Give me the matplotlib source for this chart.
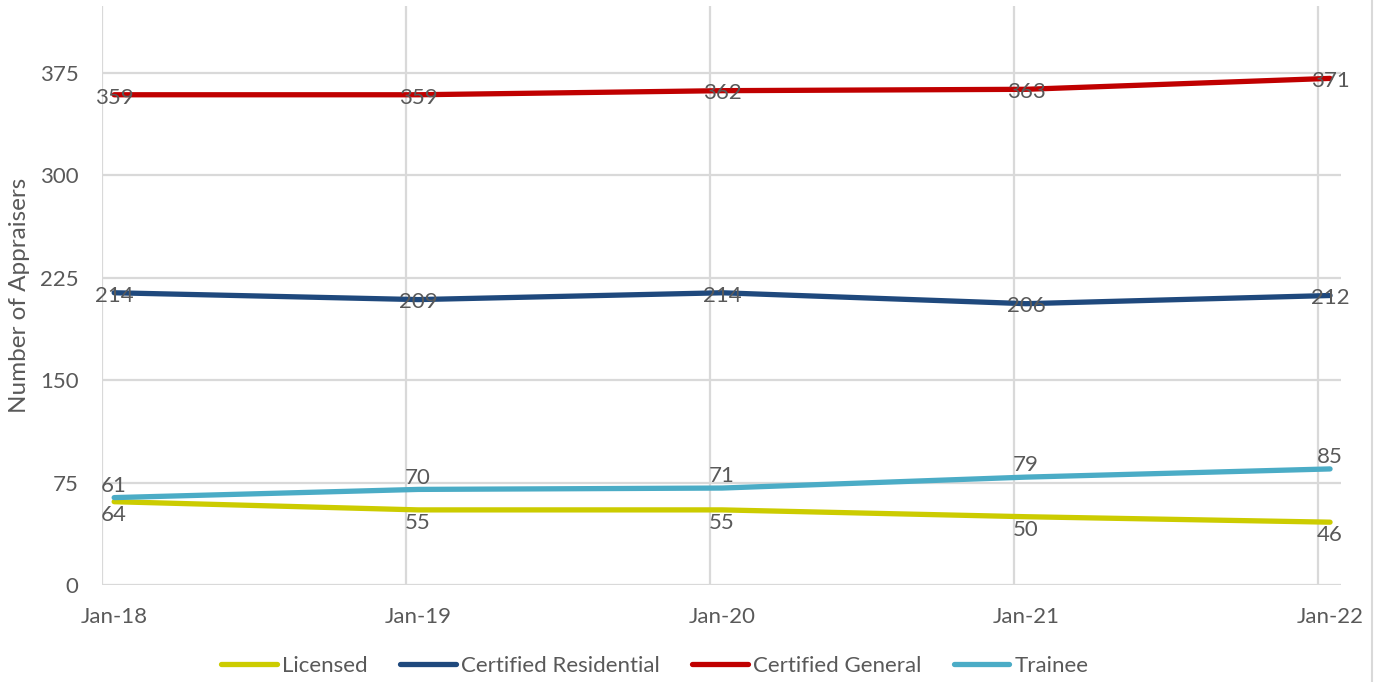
import matplotlib
matplotlib.use("Agg")
import matplotlib.pyplot as plt
from matplotlib.lines import Line2D

plt.rcParams['font.family'] = ['Lato', 'DejaVu Sans']

categories = ["Jan-18", "Jan-19", "Jan-20", "Jan-21", "Jan-22"]
licensed = [61, 55, 55, 50, 46]
cert_residential = [214, 209, 214, 206, 212]
cert_general = [359, 359, 362, 363, 371]
trainee = [64, 70, 71, 79, 85]
# data labels as printed in the reference
licensed_labels = ["64", "55", "55", "50", "46"]
trainee_labels = ["61", "70", "71", "79", "85"]
yticks = [0, 75, 150, 225, 300, 375]

TEXT = "#595959"
GRID = "#D9D9D9"
colors = {"Licensed": "#CCCC00", "Certified Residential": "#1F497D",
          "Certified General": "#C00000", "Trainee": "#4BACC6"}

fig = plt.figure(figsize=(13.77, 6.82), dpi=100)
ax = fig.add_axes([102/1377, 1-585/682, (1341-102)/1377, (585-6)/682])

x = list(range(len(categories)))
series = [("Licensed", licensed), ("Certified Residential", cert_residential),
          ("Certified General", cert_general), ("Trainee", trainee)]
lw = 3.8
for name, vals in series:
    ax.plot(x, vals, color=colors[name], lw=lw, solid_capstyle='round',
            label=name, zorder=3)

fs = 16
# Certified labels centered on points
for vals in (cert_general, cert_residential):
    for xi, v in zip(x, vals):
        ax.annotate(str(v), (xi, v), xytext=(0, -2), textcoords='offset points',
                    ha='center', va='center', fontsize=fs, color=TEXT, zorder=4)
for xi, v, t in zip(x, licensed, licensed_labels):
    ax.annotate(t, (xi, v), xytext=(0, -9.5), textcoords='offset points',
                ha='center', va='center', fontsize=fs, color=TEXT, zorder=4)
for xi, v, t in zip(x, trainee, trainee_labels):
    ax.annotate(t, (xi, v), xytext=(0, 8.5), textcoords='offset points',
                ha='center', va='center', fontsize=fs, color=TEXT, zorder=4)

ax.set_xlim(-0.04, 4.036)
ax.set_ylim(0, 424)
ax.set_yticks(yticks)
ax.set_xticks(x)
ax.set_xticklabels(categories)
ax.tick_params(axis='both', length=0, labelsize=fs, colors=TEXT)
ax.tick_params(axis='x', pad=16)
ax.tick_params(axis='y', pad=17)
for s in ax.spines.values():
    s.set_visible(False)
ax.yaxis.grid(True, color=GRID, lw=1.6, zorder=0)
for xi in x:
    ax.axvline(xi - 0.04, color=GRID, lw=1.6, zorder=0)
ax.set_ylabel("Number of Appraisers", fontsize=17.5, color=TEXT, labelpad=7)

fig.add_artist(Line2D([1372/1377, 1372/1377], [0, 1], color=GRID, lw=1.5,
                      transform=fig.transFigure))

handles, labels = ax.get_legend_handles_labels()
leg = fig.legend(handles, labels, loc='center', bbox_to_anchor=(655/1377, 1-666/682),
                 ncol=4, frameon=False, fontsize=fs, handlelength=2.5,
                 handletextpad=0.25, columnspacing=1.45, labelcolor=TEXT)

fig.savefig("out.png", dpi=100)
